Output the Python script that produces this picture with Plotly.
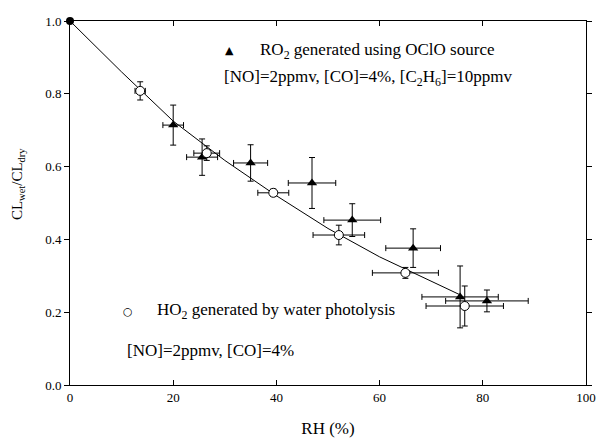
import plotly.graph_objects as go

# RO2 generated using OClO source (filled triangles)
ro2_rh = [0, 20.0, 25.6, 35.0, 46.9, 54.7, 66.5, 75.6, 80.8]
ro2_cl = [1.0, 0.714, 0.626, 0.610, 0.555, 0.453, 0.376, 0.242, 0.231]
ro2_rh_err = [0, 2.0, 3.0, 3.3, 4.6, 5.5, 5.3, 7.4, 8.0]
ro2_cl_err = [0, 0.055, 0.050, 0.050, 0.070, 0.045, 0.053, 0.085, 0.030]

# HO2 generated by water photolysis (open circles)
ho2_rh = [13.6, 26.5, 39.4, 52.1, 65.0, 76.5]
ho2_cl = [0.808, 0.637, 0.528, 0.412, 0.308, 0.217]
ho2_rh_err = [1.0, 2.5, 3.0, 5.0, 6.4, 7.5]
ho2_cl_err = [0.025, 0.020, 0.010, 0.027, 0.015, 0.055]

# fitted curve
fit_rh = [0, 10, 20, 30, 40, 50, 60, 70, 76]
fit_cl = [1.0, 0.86, 0.725, 0.617, 0.52, 0.43, 0.352, 0.285, 0.245]

x_ticks = [0, 20, 40, 60, 80, 100]
y_ticks = [0.0, 0.2, 0.4, 0.6, 0.8, 1.0]

FONT = "Liberation Serif"

fig = go.Figure()
fig.add_trace(go.Scatter(x=fit_rh, y=fit_cl, mode="lines",
                         line=dict(color="black", width=1), hoverinfo="skip"))
fig.add_trace(go.Scatter(
    x=ro2_rh[1:], y=ro2_cl[1:], mode="markers",
    marker=dict(symbol="triangle-up", size=9, color="black"),
    error_x=dict(type="data", array=ro2_rh_err[1:], color="black", thickness=1, width=3),
    error_y=dict(type="data", array=ro2_cl_err[1:], color="black", thickness=1, width=3)))
fig.add_trace(go.Scatter(
    x=ho2_rh, y=ho2_cl, mode="markers",
    marker=dict(symbol="circle", size=9, color="white", line=dict(color="black", width=1)),
    error_x=dict(type="data", array=ho2_rh_err, color="black", thickness=1, width=3),
    error_y=dict(type="data", array=ho2_cl_err, color="black", thickness=1, width=3)))
fig.add_trace(go.Scatter(x=ro2_rh[:1], y=ro2_cl[:1], mode="markers",
                         marker=dict(symbol="circle", size=8, color="black"),
                         cliponaxis=False))

ann_font = dict(family=FONT, size=17, color="black")
anns = [
    dict(x=31.0, y=0.918, text="▲", font=dict(family="DejaVu Sans", size=11, color="black"),
         xanchor="center"),
    dict(x=36.4, y=0.918, text="RO<sub>2</sub> generated using OClO source", xanchor="left"),
    dict(x=29.5, y=0.843, text="[NO]=2ppmv, [CO]=4%, [C<sub>2</sub>H<sub>6</sub>]=10ppmv",
         xanchor="left"),
    dict(x=11.2, y=0.203, text="○", font=dict(family="DejaVu Sans", size=11, color="black"),
         xanchor="center"),
    dict(x=16.5, y=0.203, text="HO<sub>2</sub> generated by water photolysis", xanchor="left"),
    dict(x=10.7, y=0.096, text="[NO]=2ppmv, [CO]=4%", xanchor="left"),
]
for a in anns:
    a.setdefault("font", ann_font)
    a.update(xref="x", yref="y", showarrow=False, yanchor="middle")

# y-axis title (placed off-centre as in the original)
anns.append(dict(x=(18 - 70) / 516.0, xref="paper", y=0.552, yref="paper",
                 text="CL<sub>wet</sub>/CL<sub>dry</sub>", textangle=-90,
                 showarrow=False, xanchor="center", yanchor="middle",
                 font=dict(family=FONT, size=15, color="black")))

fig.update_layout(
    width=596, height=440,
    margin=dict(l=70, r=10, t=21, b=55),
    paper_bgcolor="white", plot_bgcolor="white",
    showlegend=False,
    font=dict(family=FONT, color="black", size=13),
    annotations=anns,
)
fig.update_xaxes(range=[0, 100], tickvals=x_ticks, ticktext=[str(v) for v in x_ticks],
                 ticks="inside", ticklen=5, tickcolor="black",
                 showline=True, linecolor="black", linewidth=1, mirror="ticks",
                 showgrid=False, zeroline=False, automargin=False,
                 ticklabeloverflow="allow",
                 title=dict(text="RH (%)", font=dict(size=17), standoff=18),
                 tickfont=dict(size=13))
fig.update_yaxes(range=[0, 1.0], tickvals=y_ticks, ticktext=[f"{v:.1f}" for v in y_ticks],
                 ticks="outside", ticklen=5, tickcolor="black",
                 showline=True, linecolor="black", linewidth=1, mirror="ticks",
                 showgrid=False, zeroline=False, automargin=False,
                 tickfont=dict(size=13))

fig.write_html("out.html", config={"displayModeBar": False},
               post_script="document.body.style.margin='0';document.body.style.overflow='hidden';")
